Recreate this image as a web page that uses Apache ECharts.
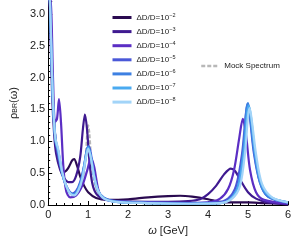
<!DOCTYPE html>
<html><head><meta charset="utf-8">
<script src="https://cdn.jsdelivr.net/npm/echarts@6/dist/echarts.min.js"></script>
<style>html,body{margin:0;padding:0;background:#fff}#c{width:300px;height:241px}</style>
</head><body><div id="c"></div>
<script>
// ---- data (omega [GeV], rho_BR) ----
const legendNames = ['ΔD/D=10^-2','ΔD/D=10^-3','ΔD/D=10^-4','ΔD/D=10^-5','ΔD/D=10^-6','ΔD/D=10^-7','ΔD/D=10^-8'];
const mockName = 'Mock Spectrum';
const xTicks = [0,1,2,3,4,5,6];
const yTicks = [0,0.5,1.0,1.5,2.0,2.5,3.0];

const dd2 = [[0.02,3.5],[0.05,3.0],[0.1,2.0],[0.15,1.3],[0.2,0.9],[0.3,0.58],[0.4,0.52],[0.5,0.58],[0.6,0.7],[0.65,0.72],[0.72,0.62],[0.8,0.45],[0.9,0.3],[1.0,0.2],[1.2,0.11],[1.5,0.08],[2.0,0.09],[2.5,0.12],[3.0,0.14],[3.3,0.145],[3.6,0.13],[4.0,0.09],[4.3,0.05],[4.7,0.04],[5.0,0.04],[5.4,0.03],[6.0,0.02]];
const dd3 = [[0.02,3.5],[0.06,2.6],[0.1,1.7],[0.15,1.1],[0.2,0.8],[0.3,0.55],[0.4,0.42],[0.5,0.36],[0.6,0.36],[0.7,0.46],[0.8,0.75],[0.87,1.2],[0.92,1.42],[0.97,1.2],[1.03,0.7],[1.1,0.35],[1.2,0.18],[1.4,0.09],[1.8,0.06],[2.5,0.05],[3.0,0.05],[3.5,0.06],[3.8,0.09],[4.0,0.17],[4.2,0.3],[4.4,0.48],[4.57,0.57],[4.68,0.53],[4.8,0.4],[5.0,0.2],[5.2,0.1],[5.5,0.04],[6.0,0.01]];
const dd4 = [[0.03,3.5],[0.08,3.0],[0.12,2.0],[0.17,1.3],[0.22,1.35],[0.27,1.66],[0.32,1.3],[0.38,0.6],[0.45,0.22],[0.55,0.12],[0.7,0.15],[0.85,0.3],[0.98,0.55],[1.07,0.74],[1.15,0.6],[1.25,0.25],[1.35,0.12],[1.6,0.06],[2.5,0.04],[3.5,0.03],[4.0,0.04],[4.3,0.1],[4.5,0.25],[4.65,0.55],[4.78,1.05],[4.87,1.35],[4.95,1.1],[5.05,0.55],[5.2,0.2],[5.4,0.08],[6.0,0.02]];
const dd5 = [[0.03,3.5],[0.08,2.4],[0.13,1.5],[0.2,0.95],[0.3,0.62],[0.4,0.38],[0.5,0.24],[0.6,0.18],[0.7,0.22],[0.8,0.36],[0.9,0.62],[0.97,0.88],[1.02,0.92],[1.08,0.76],[1.16,0.42],[1.25,0.22],[1.4,0.11],[1.7,0.06],[2.5,0.04],[3.5,0.03],[4.2,0.04],[4.5,0.1],[4.7,0.3],[4.85,0.8],[4.95,1.45],[4.99,1.58],[5.05,1.35],[5.15,0.8],[5.3,0.35],[5.5,0.13],[6.0,0.03]];
const dd6 = [[0.03,3.5],[0.07,2.6],[0.12,1.6],[0.18,1.05],[0.25,0.85],[0.35,0.5],[0.45,0.3],[0.55,0.19],[0.65,0.17],[0.75,0.25],[0.85,0.45],[0.95,0.8],[1.0,0.92],[1.06,0.78],[1.15,0.45],[1.25,0.22],[1.4,0.11],[1.7,0.05],[2.5,0.03],[3.5,0.02],[4.3,0.03],[4.55,0.09],[4.75,0.3],[4.88,0.85],[4.96,1.5],[5.0,1.6],[5.06,1.35],[5.15,0.85],[5.3,0.35],[5.5,0.13],[6.0,0.04]];
const dd7 = [[0.03,3.5],[0.07,2.6],[0.12,1.6],[0.18,1.0],[0.25,0.85],[0.35,0.5],[0.45,0.3],[0.55,0.18],[0.65,0.16],[0.75,0.24],[0.85,0.42],[0.95,0.78],[1.0,0.9],[1.06,0.78],[1.15,0.45],[1.25,0.22],[1.4,0.1],[1.7,0.05],[2.5,0.03],[3.5,0.02],[4.3,0.03],[4.55,0.09],[4.75,0.28],[4.9,0.85],[4.98,1.45],[5.02,1.56],[5.08,1.35],[5.17,0.85],[5.32,0.35],[5.55,0.13],[6.0,0.04]];
const dd8 = [[0.03,3.5],[0.07,2.7],[0.12,1.65],[0.18,1.05],[0.25,0.88],[0.35,0.52],[0.45,0.3],[0.55,0.18],[0.65,0.15],[0.75,0.22],[0.85,0.4],[0.95,0.76],[1.0,0.88],[1.06,0.76],[1.15,0.44],[1.25,0.22],[1.4,0.1],[1.7,0.05],[2.5,0.03],[3.5,0.02],[4.3,0.03],[4.6,0.1],[4.8,0.3],[4.93,0.85],[5.0,1.4],[5.04,1.52],[5.1,1.3],[5.2,0.8],[5.35,0.33],[5.6,0.12],[6.0,0.04]];
const mock = [[0.03,3.5],[0.07,2.7],[0.12,1.65],[0.18,1.05],[0.25,0.8],[0.35,0.5],[0.45,0.3],[0.55,0.2],[0.65,0.16],[0.75,0.2],[0.85,0.35],[0.93,0.7],[0.98,1.15],[1.0,1.25],[1.03,1.12],[1.08,0.7],[1.16,0.35],[1.3,0.15],[1.6,0.06],[2.5,0.03],[3.5,0.02],[4.3,0.03],[4.58,0.09],[4.77,0.3],[4.9,0.85],[4.98,1.45],[5.01,1.55],[5.07,1.35],[5.16,0.85],[5.31,0.35],[5.52,0.13],[6.0,0.04]];

const seriesData = [dd2, dd3, dd4, dd5, dd6, dd7, dd8];
const colors = ['#2a0a50','#3f1a90','#5b2ec4','#4a58d8','#3d80e2','#4aaaf0','#a2d4f8'];

const chart = echarts.init(document.getElementById('c'), null, {renderer:'canvas'});
const FONT = 'Liberation Sans';
const series = [{
  name: mockName, type:'line', data: mock, symbol:'none', smooth:0.3, z:1,
  lineStyle:{color:'#b8b8b8', width:2.2, type:[4,2]}, itemStyle:{color:'#b8b8b8'}
}];
seriesData.forEach((d,i)=>{
  series.push({name: legendNames[i], type:'line', data:d, symbol:'none', smooth:0.3, z:2+i,
    lineStyle:{color:colors[i], width:2.2}, itemStyle:{color:colors[i]}});
});
function fmtLegend(n){
  const m = n.match(/^(.*10)\^(.*)$/);
  if(!m) return n;
  return '{t|' + m[1] + '}{s|' + m[2].replace('-', '−') + '}';
}
chart.setOption({
  animation:false,
  grid:{left:42, right:12, top:1, bottom:31},
  legend:[{
    data: legendNames, orient:'vertical', left:106, top:7, itemWidth:19, itemHeight:10, itemGap:4.6,
    formatter: fmtLegend,
    itemStyle:{opacity:0},
    lineStyle:{width:3},
    textStyle:{fontFamily:FONT, fontSize:8, color:'#222',
      rich:{t:{fontFamily:FONT, fontSize:8, color:'#222'}, s:{fontFamily:FONT, fontSize:5.5, color:'#222', verticalAlign:'top', padding:[0,0,5,0]}}}
  },{
    data:[mockName], left:195, top:57, itemWidth:18, itemHeight:10,
    itemStyle:{opacity:0},
    lineStyle:{width:2.5},
    textStyle:{fontFamily:FONT, fontSize:8, color:'#222'}
  }],
  xAxis:{type:'value', min:0, max:6, interval:1,
    name:'{i|ω} [GeV]', nameLocation:'middle', nameGap:20,
    nameTextStyle:{fontFamily:FONT, fontSize:11, color:'#222', rich:{i:{fontFamily:FONT, fontStyle:'italic', fontSize:11, color:'#222'}}},
    axisLine:{lineStyle:{color:'#000', width:1}},
    axisTick:{inside:true, length:4, lineStyle:{color:'#000'}},
    minorTick:{show:true, splitNumber:5, length:2, lineStyle:{color:'#000'}},
    splitLine:{show:false},
    axisLabel:{fontFamily:FONT, fontSize:11, color:'#222', margin:4, formatter:v=>xTicks.includes(v)?String(v):''}
  },
  yAxis:{type:'value', min:0, max:3.2, interval:0.5,
    name:'{a|ρ}{s|BR}{a|(ω)}', nameLocation:'middle', nameGap:28, nameRotate:90,
    nameTextStyle:{fontFamily:FONT, fontSize:11, color:'#222', rich:{a:{fontFamily:FONT, fontSize:11, color:'#222'}, s:{fontFamily:FONT, fontSize:7, color:'#222', verticalAlign:'bottom', padding:[4,0,0,0]}}},
    axisLine:{show:true, lineStyle:{color:'#000', width:1}},
    axisTick:{show:true, inside:true, length:4, lineStyle:{color:'#000'}},
    minorTick:{show:true, splitNumber:5, length:2, lineStyle:{color:'#000'}},
    splitLine:{show:false},
    axisLabel:{fontFamily:FONT, fontSize:11, color:'#222', margin:3, showMaxLabel:false,
      formatter:v=>{const t=yTicks.find(k=>Math.abs(k-v)<1e-6); return t===undefined?'':t.toFixed(1);}}
  },
  series: series
});
</script></body></html>
